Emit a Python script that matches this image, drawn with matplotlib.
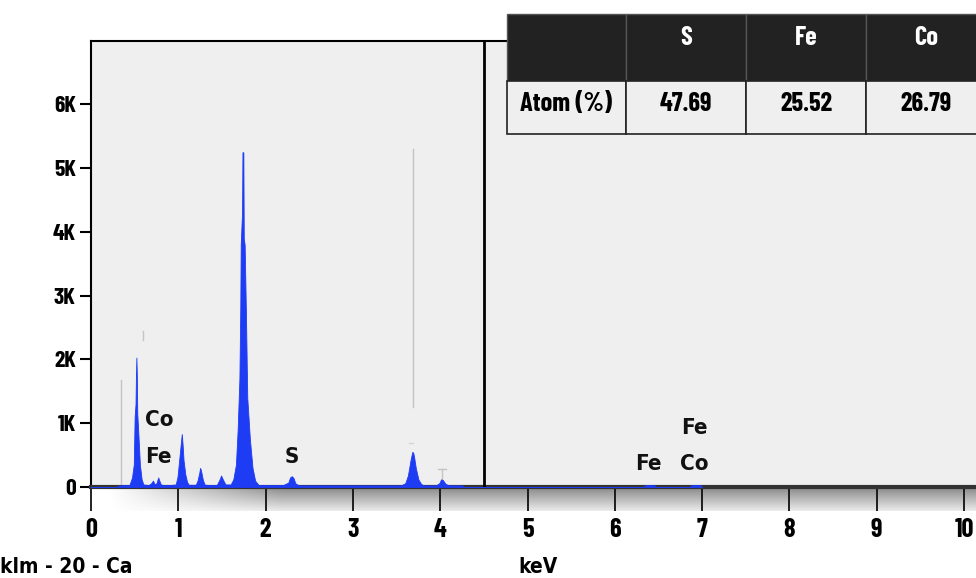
import numpy as np
import matplotlib.pyplot as plt
from matplotlib.patches import Rectangle

W, H = 976, 578

# spectrum (keV, counts)
energy_kev = [0.00, 0.30, 0.32, 0.44, 0.47, 0.49, 0.50, 0.51, 0.515, 0.52, 0.525, 0.53,
              0.54, 0.56, 0.58, 0.60, 0.66, 0.69, 0.71, 0.73, 0.75, 0.77, 0.78, 0.80,
              0.83, 0.90, 0.97, 0.99, 1.01, 1.03, 1.04, 1.05, 1.06, 1.08, 1.10, 1.12,
              1.20, 1.22, 1.24, 1.25, 1.26, 1.28, 1.30, 1.34, 1.44, 1.47, 1.49, 1.51,
              1.54, 1.60, 1.63, 1.66, 1.68, 1.70, 1.71, 1.715, 1.73, 1.735, 1.745, 1.75,
              1.76, 1.775, 1.79, 1.82, 1.85, 1.88, 1.92, 2.20, 2.26, 2.28, 2.30, 2.32,
              2.34, 2.38, 3.55, 3.60, 3.63, 3.66, 3.68, 3.69, 3.70, 3.72, 3.75, 3.78,
              3.81, 3.95, 3.99, 4.01, 4.03, 4.06, 4.10, 4.25, 4.27,
              6.33, 6.35, 6.45, 6.47, 6.86, 6.88, 6.98, 7.00]
counts = [0, 0, 25, 30, 150, 350, 1100, 1300, 1750, 2030, 1750, 1150,
          900, 350, 120, 40, 30, 60, 100, 40, 60, 150, 110, 40,
          30, 30, 40, 150, 420, 700, 830, 650, 420, 200, 80, 35,
          35, 100, 220, 300, 260, 120, 40, 30, 30, 110, 180, 120,
          40, 40, 120, 350, 900, 1700, 2800, 3800, 4300, 5250, 5250, 3900,
          3800, 2700, 1400, 750, 300, 100, 30, 30, 70, 150, 170, 140,
          60, 25, 25, 60, 180, 420, 550, 540, 480, 300, 120, 50,
          25, 25, 60, 120, 110, 50, 25, 25, 0,
          0, 30, 30, 0, 0, 30, 30, 0]

# KLM marker lines (keV, from, to)
marker_kev = [0.34, 0.60, 3.69]
marker_lo = [0, 2300, 1260]
marker_hi = [1680, 2450, 5300]

x_ticks = list(range(11))
y_ticks = [0, 1000, 2000, 3000, 4000, 5000, 6000]
y_labels = ['0', '1K', '2K', '3K', '4K', '5K', '6K']

peak_labels = ['Co', 'Fe', 'S', 'Fe', 'Co', 'Fe']
peak_x = [0.62, 0.62, 2.30, 6.38, 6.91, 6.91]
peak_y = [1050, 470, 470, 360, 360, 930]

table_cols = ['S', 'Fe', 'Co']
table_row = 'Atom (%)'
table_vals = ['47.69', '25.52', '26.79']

NARROW = ['Barlow Condensed', 'DejaVu Sans']
BLUE = '#1f3cf5'


def fx(px):
    return px / W


def fy(py):
    return 1 - py / H


fig = plt.figure(figsize=(W / 100, H / 100), dpi=100)

# gray gradient band below the axis
band = fig.add_axes([fx(91), fy(511), fx(W) - fx(91), (511 - 488) / H], zorder=0)
v = np.linspace(0.55, 0.92, 40)[:, None]
h = np.clip(np.linspace(-0.1, 5, 400), 0, 1)[None, :]
img = 1 - (1 - v) * h
band.imshow(img, cmap='gray', vmin=0, vmax=1, aspect='auto', extent=[0, 1, 0, 1])
band.axis('off')

ax = fig.add_axes([fx(91), fy(487), fx(W) - fx(91), (487 - 40.7) / H], zorder=1)
ax.set_facecolor('#efefef')
ax.set_xlim(0, (W - 91) / 87.3)
ax.set_ylim(0, 7000)

ax.fill_between(energy_kev, counts, 0, color=BLUE, lw=0.6, edgecolor=BLUE, zorder=3)
for xk, lo, hi in zip(marker_kev, marker_lo, marker_hi):
    ax.plot([xk, xk], [lo, hi], color='#c4c4c4', lw=1, zorder=2)
ax.plot([3.64, 3.69], [690, 690], color='#d4d4d4', lw=1, zorder=2)
ax.plot([3.97, 4.07], [280, 280], color='#c4c4c4', lw=1, zorder=2)
ax.plot([4.02, 4.02], [100, 280], color='#c4c4c4', lw=1, zorder=2)

ax.axvline(4.5, color='black', lw=2, zorder=4)

for t, xx, yy in zip(peak_labels, peak_x, peak_y):
    ax.text(xx, yy, t, family='DejaVu Sans', fontstretch='condensed', fontsize=16,
            fontweight='bold', ha='left' if xx < 1 else 'center', va='center',
            color='#111111', zorder=5)

ax.spines['right'].set_visible(False)
ax.spines['left'].set_linewidth(1.5)
ax.spines['top'].set_linewidth(1.5)
ax.spines['bottom'].set_linewidth(3)
ax.spines['bottom'].set_color('#333333')

ax.set_xticks(x_ticks)
ax.set_xticklabels([str(t) for t in x_ticks], family=NARROW, fontsize=19, fontweight='bold')
ax.set_yticks(y_ticks)
ax.set_yticklabels(y_labels, family=NARROW, fontsize=17, fontweight='bold')
ax.tick_params(axis='x', direction='out', length=17, width=1.3, pad=5, color='#111111')
ax.tick_params(axis='y', direction='out', length=8, width=1.5, pad=3)

fig.text(0, fy(567), 'klm - 20 - Ca', family='DejaVu Sans', fontstretch='condensed',
         fontsize=15, fontweight='bold', ha='left', va='center')
fig.text(fx(538), fy(567), 'keV', family='DejaVu Sans', fontstretch='condensed',
         fontsize=15, fontweight='bold', ha='center', va='center')

# composition table in the top right corner
col_x = [507, 626, 746, 866, 986]
rows_y = [14, 81, 134]
for i in range(4):
    x0, x1 = col_x[i], col_x[i + 1]
    fig.add_artist(Rectangle((fx(x0), fy(rows_y[1])), fx(x1) - fx(x0), (rows_y[1] - rows_y[0]) / H,
                             facecolor='#222222', edgecolor='#555555', lw=1, zorder=10))
    fig.add_artist(Rectangle((fx(x0), fy(rows_y[2])), fx(x1) - fx(x0), (rows_y[2] - rows_y[1]) / H,
                             facecolor='#efefef', edgecolor='#222222', lw=1.2, zorder=10))
    xc = fx((x0 + x1) / 2)
    if i == 0:
        fig.text(xc, fy(104), table_row, family=NARROW, fontsize=19, fontweight='bold',
                 ha='center', va='center', zorder=11)
    else:
        fig.text(xc, fy(38), table_cols[i - 1], family=NARROW, fontsize=19, fontweight='bold',
                 color='white', ha='center', va='center', zorder=11)
        fig.text(xc, fy(104), table_vals[i - 1], family=NARROW, fontsize=19, fontweight='bold',
                 ha='center', va='center', zorder=11)

fig.savefig('out.png', dpi=100, facecolor='white')
